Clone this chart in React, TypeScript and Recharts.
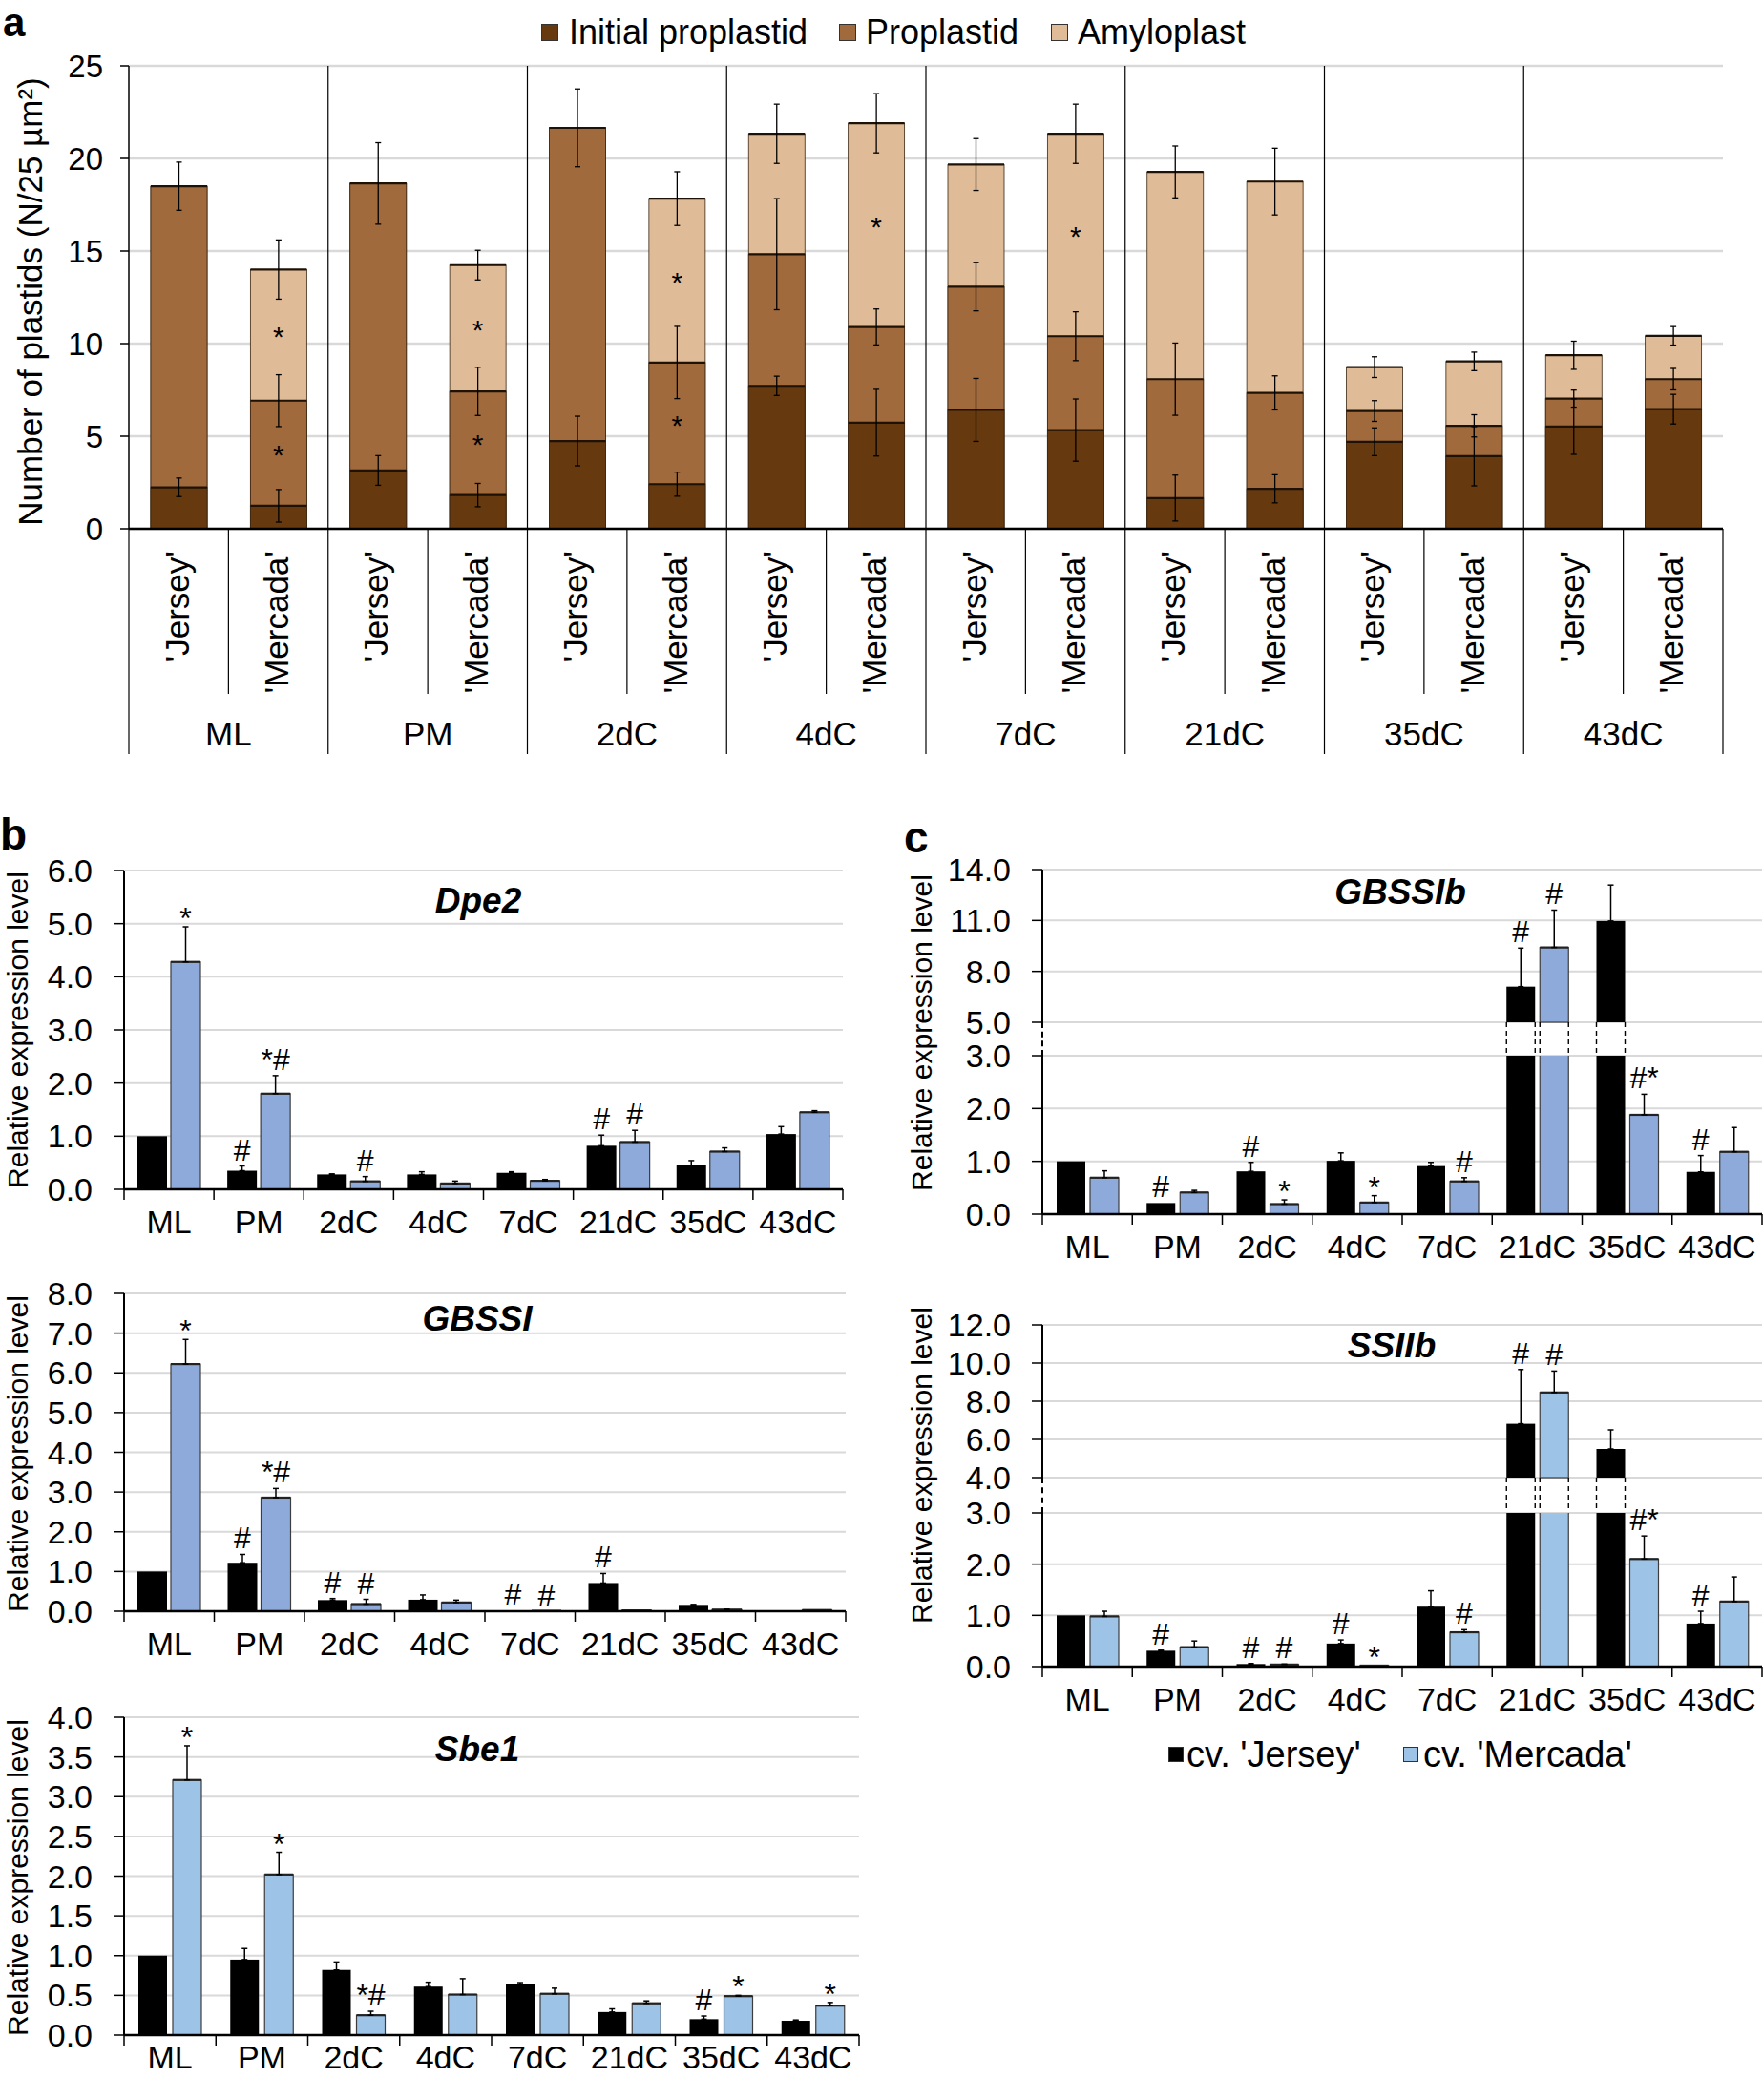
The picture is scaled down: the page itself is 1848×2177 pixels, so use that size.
import React from "react";
import { BarChart, Bar, XAxis, YAxis, CartesianGrid, ErrorBar } from "recharts";

const FONT = '"Liberation Sans", Arial, Helvetica, sans-serif';
const GRID = "#d9d9d9";

// ---------- a: Plastiden je 25 µm² ----------
const STAGES = ["ML", "PM", "2dC", "4dC", "7dC", "21dC", "35dC", "43dC"];
const CULTIVARS = ["'Jersey'", "'Mercada'"];

// Reihenfolge: ML Jersey, ML Mercada, PM Jersey, ...
const INITIAL = [2.24, 1.24, 3.15, 1.82, 4.74, 2.41, 7.72, 5.73, 6.42, 5.33, 1.66, 2.16, 4.7, 3.92, 5.52, 6.46];
const PROPLASTID = [16.26, 5.68, 15.5, 5.6, 16.91, 6.57, 7.11, 5.17, 6.65, 5.07, 6.42, 5.18, 1.66, 1.64, 1.51, 1.62];
const AMYLOPLAST = [0, 7.08, 0, 6.82, 0, 8.85, 6.5, 11.0, 6.6, 10.93, 11.19, 11.41, 2.37, 3.48, 2.34, 2.34];
const INITIAL_ERR = [0.5, 0.88, 0.8, 0.63, 1.34, 0.65, 0.52, 1.8, 1.7, 1.68, 1.24, 0.76, 0.75, 1.6, 1.5, 0.8];
const PROPLASTID_ERR = [1.3, 1.4, 2.2, 1.3, 2.1, 1.95, 3.0, 0.97, 1.3, 1.32, 1.95, 0.92, 0.56, 0.6, 0.46, 0.58];
const AMYLOPLAST_ERR = [0, 1.6, 0, 0.8, 0, 1.45, 1.6, 1.6, 1.4, 1.6, 1.4, 1.8, 0.56, 0.5, 0.76, 0.5];
const PROPLASTID_STAR = [1, 3, 5];
const AMYLOPLAST_STAR = [1, 3, 5, 7, 9];

const C_INITIAL = "#67390f";
const C_PRO = "#a06a3c";
const C_AMY = "#dfbc97";

// ---------- b/c: relative Expression ----------
const DPE2_J = [1.0, 0.35, 0.28, 0.28, 0.31, 0.82, 0.45, 1.04];
const DPE2_J_ERR = [0, 0.09, 0.01, 0.05, 0.02, 0.2, 0.09, 0.14];
const DPE2_J_SIG = ["", "#", "", "", "", "#", "", ""];
const DPE2_M = [4.28, 1.8, 0.15, 0.11, 0.16, 0.89, 0.71, 1.45];
const DPE2_M_ERR = [0.66, 0.34, 0.09, 0.045, 0.025, 0.22, 0.07, 0.03];
const DPE2_M_SIG = ["*", "*#", "#", "", "", "#", "", ""];

const GBSSI_J = [1.0, 1.22, 0.28, 0.29, 0.02, 0.71, 0.16, 0.02];
const GBSSI_J_ERR = [0, 0.21, 0.04, 0.12, 0, 0.24, 0.01, 0];
const GBSSI_J_SIG = ["", "#", "#", "", "#", "#", "", ""];
const GBSSI_M = [6.22, 2.86, 0.18, 0.22, 0.01, 0.02, 0.04, 0.03];
const GBSSI_M_ERR = [0.62, 0.23, 0.12, 0.06, 0, 0, 0.01, 0];
const GBSSI_M_SIG = ["*", "*#", "#", "", "#", "", "", ""];

const SBE1_J = [1.0, 0.95, 0.82, 0.61, 0.64, 0.29, 0.2, 0.18];
const SBE1_J_ERR = [0, 0.14, 0.1, 0.055, 0.02, 0.04, 0.04, 0.01];
const SBE1_J_SIG = ["", "", "", "", "", "", "#", ""];
const SBE1_M = [3.21, 2.02, 0.25, 0.51, 0.52, 0.4, 0.49, 0.37];
const SBE1_M_ERR = [0.43, 0.28, 0.05, 0.2, 0.07, 0.03, 0.01, 0.04];
const SBE1_M_SIG = ["*", "*", "*#", "", "", "", "*", "*"];

const GBSSIB_J = [1.0, 0.21, 0.81, 1.01, 0.91, 7.1, 10.97, 0.8];
const GBSSIB_J_ERR = [0, 0, 0.17, 0.15, 0.07, 2.27, 2.12, 0.31];
const GBSSIB_J_SIG = ["", "#", "#", "", "", "#", "", "#"];
const GBSSIB_M = [0.69, 0.41, 0.19, 0.22, 0.62, 9.41, 1.88, 1.18];
const GBSSIB_M_ERR = [0.13, 0.04, 0.08, 0.13, 0.07, 2.2, 0.39, 0.46];
const GBSSIB_M_SIG = ["", "", "*", "*", "#", "#", "#*", ""];

const SSIIB_J = [1.0, 0.31, 0.05, 0.45, 1.17, 6.82, 5.5, 0.84];
const SSIIB_J_ERR = [0, 0.01, 0.01, 0.07, 0.31, 2.84, 1.0, 0.24];
const SSIIB_J_SIG = ["", "#", "#", "#", "", "#", "", "#"];
const SSIIB_M = [0.98, 0.38, 0.04, 0.02, 0.67, 8.46, 2.1, 1.27];
const SSIIB_M_ERR = [0.1, 0.12, 0.01, 0, 0.05, 1.12, 0.45, 0.48];
const SSIIB_M_SIG = ["", "", "#", "*", "#", "#", "#*", ""];

const BLUE_DARK = "#8eaadb";
const BLUE_LIGHT = "#9dc3e6";

// ---------- Panel a ----------
const A_TOP = 69;
const A_LEFT = 135;
const A_RIGHT = 1805;
const A_BAR = 59;
const A_HALF = (A_RIGHT - A_LEFT) / 32;

const plastidRows = INITIAL.map((ini, i) => {
  const proTop = ini + PROPLASTID[i];
  return {
    idx: i,
    stage: STAGES[Math.floor(i / 2)],
    cultivar: CULTIVARS[i % 2],
    initial: ini,
    proTop,
    total: proTop + AMYLOPLAST[i],
    initialErr: INITIAL_ERR[i],
    proErr: PROPLASTID_ERR[i],
    amyErr: AMYLOPLAST_ERR[i],
  };
});

const plastidShape =
  (fill: string, topKey: string, lowKey: string | null, stars: number[]) => (p: any) => {
    const { x, y, width, height, payload } = p;
    if (!payload || !isFinite(y) || !isFinite(height)) return <g />;
    const i = payload.idx;
    const topVal = payload[topKey];
    const lowVal = lowKey ? payload[lowKey] : 0;
    const bgH = p.background && p.background.height;
    const ppu = bgH ? bgH / 25 : topVal ? height / topVal : 0;
    const segH = (topVal - lowVal) * ppu;
    return (
      <g>
        <rect x={x} y={y} width={width} height={height} fill={fill} stroke="#3b2612" strokeWidth={0.8} />
        <line x1={x} x2={x + width} y1={y} y2={y} stroke="#1e1206" strokeWidth={2.2} />
        {stars.includes(i) && (
          <text x={x + width / 2} y={y + segH / 2 + 12} textAnchor="middle" fontSize={30} fontFamily={FONT} fill="#000">
            *
          </text>
        )}
      </g>
    );
  };

// Zweistufige Kategorienachse: Sorte (gedreht) + Stadium darunter
const SubTick = (p: any) => {
  const { x, y, payload } = p;
  const half = payload?.offset || A_HALF;
  const i = payload.index;
  const ty = y + 23;
  return (
    <g>
      <text
        x={x}
        y={ty}
        dy="0.3em"
        textAnchor="end"
        transform={`rotate(-90 ${x} ${ty})`}
        fontSize={35}
        fontFamily={FONT}
        fill="#000"
      >
        {payload.value}
      </text>
      {i % 2 === 0 && (
        <text x={x + half} y={y + 227} textAnchor="middle" fontSize={35} fontFamily={FONT} fill="#000">
          {STAGES[Math.floor(i / 2)]}
        </text>
      )}
      {i % 2 === 0 && <line x1={x + half} x2={x + half} y1={y} y2={y + 173} stroke="#000" strokeWidth={1.2} />}
      {i % 2 === 0 && (
        <line x1={x - half} x2={x - half} y1={i === 0 ? y : A_TOP} y2={y + 236} stroke="#000" strokeWidth={1.2} />
      )}
      {i === 15 && <line x1={x + half} x2={x + half} y1={y} y2={y + 236} stroke="#000" strokeWidth={1.2} />}
    </g>
  );
};

const PlastidChart: React.FC = () => (
  <div style={{ position: "absolute", left: 0, top: 0 }}>
    <BarChart
      width={1848}
      height={800}
      data={plastidRows}
      margin={{ top: A_TOP, right: 1848 - A_RIGHT, bottom: 6, left: 0 }}
      barSize={A_BAR}
      barGap={-A_BAR}
    >
      <CartesianGrid vertical={false} stroke={GRID} strokeWidth={2.5} />
      <XAxis
        dataKey="cultivar"
        height={240}
        interval={0}
        tickLine={false}
        tickSize={0}
        tickMargin={0}
        axisLine={{ stroke: "#000", strokeWidth: 2.5 }}
        tick={SubTick}
      />
      <YAxis
        width={A_LEFT}
        domain={[0, 25]}
        ticks={[0, 5, 10, 15, 20, 25]}
        interval={0}
        tickSize={9}
        tickMargin={18}
        axisLine={{ stroke: "#000", strokeWidth: 1.5 }}
        tickLine={{ stroke: "#000", strokeWidth: 1.5 }}
        tick={{ fontSize: 33, fill: "#000", fontFamily: FONT }}
      />
      <Bar dataKey="total" fill={C_AMY} isAnimationActive={false} shape={plastidShape(C_AMY, "total", "proTop", AMYLOPLAST_STAR)}>
        <ErrorBar dataKey="amyErr" width={3} stroke="#000" strokeWidth={1.3} direction="y" isAnimationActive={false} />
      </Bar>
      <Bar dataKey="proTop" fill={C_PRO} isAnimationActive={false} shape={plastidShape(C_PRO, "proTop", "initial", PROPLASTID_STAR)}>
        <ErrorBar dataKey="proErr" width={3} stroke="#000" strokeWidth={1.3} direction="y" isAnimationActive={false} />
      </Bar>
      <Bar dataKey="initial" fill={C_INITIAL} isAnimationActive={false} shape={plastidShape(C_INITIAL, "initial", null, [])}>
        <ErrorBar dataKey="initialErr" width={3} stroke="#000" strokeWidth={1.3} direction="y" isAnimationActive={false} />
      </Bar>
    </BarChart>
  </div>
);

// ---------- Panels b / c ----------
type Series = { vals: number[]; errs: number[]; sig: string[] };
type Mode = "full" | "lower" | "upper";

function exprShape(s: Series, fill: string, stroke: string | null, mode: Mode, domain: [number, number], dashGap = 0) {
  const [lo, hi] = domain;
  return (p: any) => {
    const { x, y, width, height } = p;
    const i = p.payload ? p.payload.idx : p.index;
    const v = s.vals[i];
    if (v == null || !isFinite(y) || !isFinite(height)) return <g />;
    if (mode === "upper" && v <= lo) return <g />;
    const shown = mode === "lower" ? Math.min(v, hi) : v;
    const base = mode === "upper" ? lo : 0;
    const bgH = p.background && p.background.height;
    const ppu = bgH ? bgH / (hi - lo) : shown - base > 0 ? height / (shown - base) : 0;
    const broken = mode === "lower" && v > hi;
    const e = s.errs[i] || 0;
    const label = broken ? "" : s.sig[i];
    const errTop = y - e * ppu;
    const cy = errTop - 18;
    return (
      <g>
        <rect x={x} y={y} width={width} height={height} fill={fill} />
        {stroke && !broken && (
          <rect x={x} y={y} width={width} height={height} fill="none" stroke={stroke} strokeWidth={1.2} />
        )}
        {stroke && broken && (
          <g>
            <line x1={x} x2={x} y1={y} y2={y + height} stroke={stroke} strokeWidth={1.2} />
            <line x1={x + width} x2={x + width} y1={y} y2={y + height} stroke={stroke} strokeWidth={1.2} />
          </g>
        )}
        {stroke && !broken && <line x1={x} x2={x + width} y1={y} y2={y} stroke="#222" strokeWidth={2.2} />}
        {mode === "upper" && dashGap > 0 && (
          <g>
            <line x1={x} x2={x} y1={y + height} y2={y + height + dashGap} stroke="#000" strokeWidth={1.4} strokeDasharray="5 4" />
            <line x1={x + width} x2={x + width} y1={y + height} y2={y + height + dashGap} stroke="#000" strokeWidth={1.4} strokeDasharray="5 4" />
          </g>
        )}
        {label && (
          <text
            x={x + width / 2}
            y={label.includes("#") ? cy + 12 : cy + 20}
            textAnchor="middle"
            fontSize={32}
            fontFamily={FONT}
            fill="#000"
          >
            {label}
          </text>
        )}
      </g>
    );
  };
}

const catTick = (fallbackHalf: number, labelGap: number) => (p: any) => {
  const { x, y, payload } = p;
  const half = payload?.offset || fallbackHalf;
  return (
    <g>
      <line x1={x - half} x2={x - half} y1={y} y2={y + 11} stroke="#000" strokeWidth={1.5} />
      {payload.index === STAGES.length - 1 && (
        <line x1={x + half} x2={x + half} y1={y} y2={y + 11} stroke="#000" strokeWidth={1.5} />
      )}
      <text x={x} y={y + labelGap} dy="0.71em" textAnchor="middle" fontSize={34} fontFamily={FONT} fill="#000">
        {payload.value}
      </text>
    </g>
  );
};

interface ExprProps {
  left: number;
  top: number;
  width: number;
  height: number;
  yWidth: number;
  right: number;
  bottom: number;
  domain: [number, number];
  ticks: number[];
  jersey: Series;
  mercada: Series;
  blue: string;
  mode: Mode;
  barSize: number;
  gap: number;
  dashGap?: number;
  labelGap?: number;
}

const ExprChart: React.FC<ExprProps> = ({
  left, top, width, height, yWidth, right, bottom, domain, ticks, jersey, mercada, blue, mode, barSize, gap,
  dashGap = 0, labelGap = 22,
}) => {
  const [lo, hi] = domain;
  const half = (width - yWidth - right) / 16;
  const pick = (v: number) => (mode === "lower" ? Math.min(v, hi) : mode === "upper" ? (v > lo ? v : null) : v);
  const errOf = (v: number, e: number) => {
    if (!e) return null;
    if (mode === "lower" && v > hi) return null;
    if (mode === "upper" && v <= lo) return null;
    return [0, e];
  };
  const rows = STAGES.map((stage, i) => ({
    idx: i,
    stage,
    j: pick(jersey.vals[i]),
    m: pick(mercada.vals[i]),
    jErr: errOf(jersey.vals[i], jersey.errs[i]),
    mErr: errOf(mercada.vals[i], mercada.errs[i]),
  }));
  return (
    <div style={{ position: "absolute", left, top }}>
      <BarChart
        width={width}
        height={height}
        data={rows}
        margin={{ top: 20, right, bottom, left: 0 }}
        barSize={barSize}
        barGap={gap}
      >
        <CartesianGrid vertical={false} stroke={GRID} strokeWidth={2} />
        {mode === "upper" ? (
          <XAxis dataKey="stage" hide height={0} />
        ) : (
          <XAxis
            dataKey="stage"
            height={60}
            interval={0}
            tickLine={false}
            tickSize={0}
            tickMargin={0}
            axisLine={{ stroke: "#000", strokeWidth: 2.5 }}
            tick={catTick(half, labelGap)}
          />
        )}
        <YAxis
          width={yWidth}
          domain={domain}
          ticks={ticks}
          interval={0}
          tickFormatter={(v: number) => v.toFixed(1)}
          tickSize={11}
          tickMargin={22}
          axisLine={{ stroke: "#000", strokeWidth: 2 }}
          tickLine={{ stroke: "#000", strokeWidth: 1.5 }}
          tick={{ fontSize: 34, fill: "#000", fontFamily: FONT }}
        />
        <Bar dataKey="j" fill="#000" isAnimationActive={false} shape={exprShape(jersey, "#000", null, mode, domain, dashGap)}>
          <ErrorBar dataKey="jErr" width={3} stroke="#000" strokeWidth={1.5} direction="y" isAnimationActive={false} />
        </Bar>
        <Bar dataKey="m" fill={blue} isAnimationActive={false} shape={exprShape(mercada, blue, "#3c3c3c", mode, domain, dashGap)}>
          <ErrorBar dataKey="mErr" width={3} stroke="#000" strokeWidth={1.5} direction="y" isAnimationActive={false} />
        </Bar>
      </BarChart>
    </div>
  );
};

// ---------- Text helpers ----------
const VLabel: React.FC<{ x: number; y: number; size: number; children: React.ReactNode }> = ({ x, y, size, children }) => (
  <div
    style={{
      position: "absolute",
      left: x,
      top: y,
      transform: "translate(-50%, -50%) rotate(-90deg)",
      whiteSpace: "nowrap",
      fontSize: size,
      lineHeight: 1,
    }}
  >
    {children}
  </div>
);

const Title: React.FC<{ x: number; y: number; children: React.ReactNode }> = ({ x, y, children }) => (
  <div
    style={{
      position: "absolute",
      left: x,
      top: y,
      transform: "translate(-50%, -50%)",
      fontSize: 37,
      fontWeight: "bold",
      fontStyle: "italic",
      lineHeight: 1,
      whiteSpace: "nowrap",
    }}
  >
    {children}
  </div>
);

const Letter: React.FC<{ x: number; y: number; size?: number; lh?: number; children: React.ReactNode }> = ({
  x, y, size = 46, lh = 1, children,
}) => (
  <div style={{ position: "absolute", left: x, top: y, fontSize: size, fontWeight: "bold", lineHeight: lh }}>{children}</div>
);

const Swatch: React.FC<{ x: number; y: number; size: number; color: string }> = ({ x, y, size, color }) => (
  <div
    style={{
      position: "absolute",
      left: x,
      top: y,
      width: size,
      height: size,
      background: color,
      boxSizing: "border-box",
      border: "1.5px solid #333",
    }}
  />
);

const Txt: React.FC<{ x: number; y: number; size: number; children: React.ReactNode }> = ({ x, y, size, children }) => (
  <div style={{ position: "absolute", left: x, top: y, fontSize: size, lineHeight: 1, whiteSpace: "nowrap" }}>{children}</div>
);

const S = (vals: number[], errs: number[], sig: string[]): Series => ({ vals, errs, sig });

export default function App() {
  return (
    <div
      style={{
        position: "absolute",
        left: 0,
        top: 0,
        width: 1848,
        height: 2177,
        overflow: "hidden",
        background: "#fff",
        fontFamily: FONT,
        color: "#000",
      }}
    >
      {/* a */}
      <Letter x={3} y={0} size={42} lh={1.15}>a</Letter>
      <Swatch x={567} y={25} size={18} color={C_INITIAL} />
      <Txt x={596} y={16} size={36}>Initial proplastid</Txt>
      <Swatch x={879} y={25} size={18} color={C_PRO} />
      <Txt x={907} y={16} size={36}>Proplastid</Txt>
      <Swatch x={1101} y={25} size={18} color={C_AMY} />
      <Txt x={1129} y={16} size={36}>Amyloplast</Txt>
      <PlastidChart />
      <VLabel x={31} y={316} size={35}>Number of plastids (N/25 µm²)</VLabel>

      {/* b */}
      <Letter x={0} y={851}>b</Letter>
      <ExprChart
        left={0} top={892} width={893} height={414} yWidth={130} right={10} bottom={0}
        domain={[0, 6]} ticks={[0, 1, 2, 3, 4, 5, 6]}
        jersey={S(DPE2_J, DPE2_J_ERR, DPE2_J_SIG)} mercada={S(DPE2_M, DPE2_M_ERR, DPE2_M_SIG)}
        blue={BLUE_DARK} mode="full" barSize={31} gap={4}
      />
      <VLabel x={19} y={1079} size={30}>Relative expression level</VLabel>
      <Title x={501} y={943}>Dpe2</Title>

      <ExprChart
        left={0} top={1335} width={896} height={413} yWidth={130} right={10} bottom={0}
        domain={[0, 8]} ticks={[0, 1, 2, 3, 4, 5, 6, 7, 8]}
        jersey={S(GBSSI_J, GBSSI_J_ERR, GBSSI_J_SIG)} mercada={S(GBSSI_M, GBSSI_M_ERR, GBSSI_M_SIG)}
        blue={BLUE_DARK} mode="full" barSize={31} gap={4}
      />
      <VLabel x={19} y={1523} size={30}>Relative expression level</VLabel>
      <Title x={500} y={1381}>GBSSI</Title>

      <ExprChart
        left={0} top={1779} width={910} height={413} yWidth={130} right={10} bottom={0}
        domain={[0, 4]} ticks={[0, 0.5, 1, 1.5, 2, 2.5, 3, 3.5, 4]}
        jersey={S(SBE1_J, SBE1_J_ERR, SBE1_J_SIG)} mercada={S(SBE1_M, SBE1_M_ERR, SBE1_M_SIG)}
        blue={BLUE_LIGHT} mode="full" barSize={30} gap={6} labelGap={11}
      />
      <VLabel x={19} y={1967} size={30}>Relative expression level</VLabel>
      <Title x={500} y={1832}>Sbe1</Title>

      {/* c */}
      <Letter x={947} y={854}>c</Letter>
      <ExprChart
        left={920} top={891} width={928} height={220} yWidth={172} right={2} bottom={40}
        domain={[5, 14]} ticks={[5, 8, 11, 14]}
        jersey={S(GBSSIB_J, GBSSIB_J_ERR, GBSSIB_J_SIG)} mercada={S(GBSSIB_M, GBSSIB_M_ERR, GBSSIB_M_SIG)}
        blue={BLUE_DARK} mode="upper" barSize={30} gap={5} dashGap={35}
      />
      <ExprChart
        left={920} top={1086} width={928} height={246} yWidth={172} right={2} bottom={0}
        domain={[0, 3]} ticks={[0, 1, 2, 3]}
        jersey={S(GBSSIB_J, GBSSIB_J_ERR, GBSSIB_J_SIG)} mercada={S(GBSSIB_M, GBSSIB_M_ERR, GBSSIB_M_SIG)}
        blue={BLUE_DARK} mode="lower" barSize={30} gap={5}
      />
      <div style={{ position: "absolute", left: 1091, top: 1071, height: 35, borderLeft: "2px dashed #000" }} />
      <VLabel x={966} y={1082} size={30}>Relative expression level</VLabel>
      <Title x={1467} y={934}>GBSSIb</Title>

      <ExprChart
        left={920} top={1368} width={928} height={220} yWidth={172} right={2} bottom={40}
        domain={[4, 12]} ticks={[4, 6, 8, 10, 12]}
        jersey={S(SSIIB_J, SSIIB_J_ERR, SSIIB_J_SIG)} mercada={S(SSIIB_M, SSIIB_M_ERR, SSIIB_M_SIG)}
        blue={BLUE_LIGHT} mode="upper" barSize={30} gap={5} dashGap={37}
      />
      <ExprChart
        left={920} top={1565} width={928} height={241} yWidth={172} right={2} bottom={0}
        domain={[0, 3]} ticks={[0, 1, 2, 3]}
        jersey={S(SSIIB_J, SSIIB_J_ERR, SSIIB_J_SIG)} mercada={S(SSIIB_M, SSIIB_M_ERR, SSIIB_M_SIG)}
        blue={BLUE_LIGHT} mode="lower" barSize={30} gap={5}
      />
      <div style={{ position: "absolute", left: 1091, top: 1548, height: 37, borderLeft: "2px dashed #000" }} />
      <VLabel x={966} y={1535} size={30}>Relative expression level</VLabel>
      <Title x={1458} y={1409}>SSIIb</Title>

      <Swatch x={1224} y={1830} size={16} color="#000" />
      <Txt x={1243} y={1819} size={38}>cv. 'Jersey'</Txt>
      <Swatch x={1470} y={1830} size={16} color={BLUE_LIGHT} />
      <Txt x={1491} y={1819} size={38}>cv. 'Mercada'</Txt>
    </div>
  );
}
